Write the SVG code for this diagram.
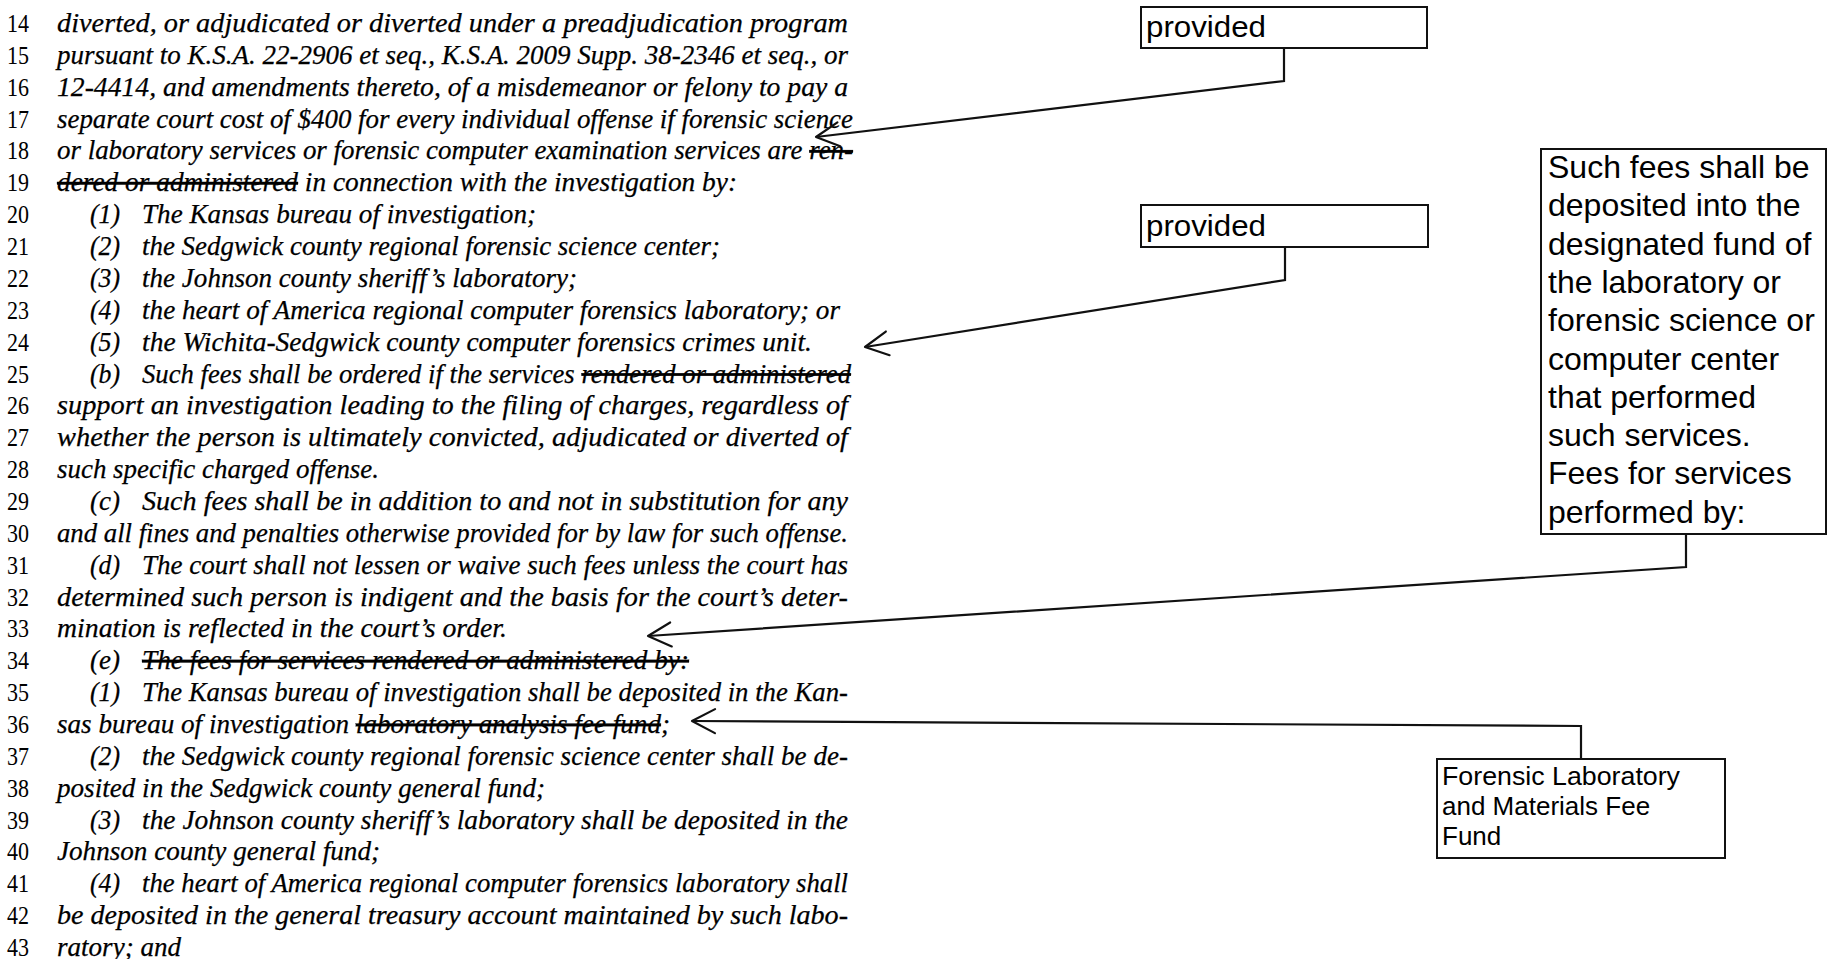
<svg xmlns="http://www.w3.org/2000/svg" width="1828" height="959" viewBox="0 0 1828 959">
<defs>
<style>
.t { font-family: "Liberation Serif", "Times New Roman", serif; font-style: italic; font-size: 27px; fill: #000000; stroke: #000000; stroke-width: 0.25; }
.n { font-family: "Liberation Serif", "Times New Roman", serif; font-size: 25px; fill: #000000; }
.s { text-decoration: line-through; }
.box { fill: #ffffff; stroke: #111111; stroke-width: 2; }
.bt { font-family: "Liberation Sans", Arial, sans-serif; fill: #000000; }
.conn { fill: none; stroke: #111111; stroke-width: 2.2; marker-end: url(#chev); }
</style>
<marker id="chev" viewBox="-30 -16 34 32" refX="0" refY="0" markerWidth="34" markerHeight="32" markerUnits="userSpaceOnUse" orient="auto" overflow="visible">
<path d="M -23 -12 L 0 0 L -23 12" fill="none" stroke="#111111" stroke-width="2.2" stroke-linecap="round" stroke-linejoin="round"/>
</marker>
</defs>
<rect width="1828" height="959" fill="#ffffff"/>

<g id="line-numbers" class="n">
<text x="7" y="32" textLength="22" lengthAdjust="spacingAndGlyphs">14</text>
<text x="7" y="63.9" textLength="22" lengthAdjust="spacingAndGlyphs">15</text>
<text x="7" y="95.7" textLength="22" lengthAdjust="spacingAndGlyphs">16</text>
<text x="7" y="127.6" textLength="22" lengthAdjust="spacingAndGlyphs">17</text>
<text x="7" y="159.4" textLength="22" lengthAdjust="spacingAndGlyphs">18</text>
<text x="7" y="191.3" textLength="22" lengthAdjust="spacingAndGlyphs">19</text>
<text x="7" y="223.2" textLength="22" lengthAdjust="spacingAndGlyphs">20</text>
<text x="7" y="255" textLength="22" lengthAdjust="spacingAndGlyphs">21</text>
<text x="7" y="286.9" textLength="22" lengthAdjust="spacingAndGlyphs">22</text>
<text x="7" y="318.7" textLength="22" lengthAdjust="spacingAndGlyphs">23</text>
<text x="7" y="350.6" textLength="22" lengthAdjust="spacingAndGlyphs">24</text>
<text x="7" y="382.5" textLength="22" lengthAdjust="spacingAndGlyphs">25</text>
<text x="7" y="414.3" textLength="22" lengthAdjust="spacingAndGlyphs">26</text>
<text x="7" y="446.2" textLength="22" lengthAdjust="spacingAndGlyphs">27</text>
<text x="7" y="478" textLength="22" lengthAdjust="spacingAndGlyphs">28</text>
<text x="7" y="509.9" textLength="22" lengthAdjust="spacingAndGlyphs">29</text>
<text x="7" y="541.8" textLength="22" lengthAdjust="spacingAndGlyphs">30</text>
<text x="7" y="573.6" textLength="22" lengthAdjust="spacingAndGlyphs">31</text>
<text x="7" y="605.5" textLength="22" lengthAdjust="spacingAndGlyphs">32</text>
<text x="7" y="637.3" textLength="22" lengthAdjust="spacingAndGlyphs">33</text>
<text x="7" y="669.2" textLength="22" lengthAdjust="spacingAndGlyphs">34</text>
<text x="7" y="701.1" textLength="22" lengthAdjust="spacingAndGlyphs">35</text>
<text x="7" y="732.9" textLength="22" lengthAdjust="spacingAndGlyphs">36</text>
<text x="7" y="764.8" textLength="22" lengthAdjust="spacingAndGlyphs">37</text>
<text x="7" y="796.6" textLength="22" lengthAdjust="spacingAndGlyphs">38</text>
<text x="7" y="828.5" textLength="22" lengthAdjust="spacingAndGlyphs">39</text>
<text x="7" y="860.4" textLength="22" lengthAdjust="spacingAndGlyphs">40</text>
<text x="7" y="892.2" textLength="22" lengthAdjust="spacingAndGlyphs">41</text>
<text x="7" y="924.1" textLength="22" lengthAdjust="spacingAndGlyphs">42</text>
<text x="7" y="955.9" textLength="22" lengthAdjust="spacingAndGlyphs">43</text>
</g>

<g id="bill-text" class="t">
<text x="57" y="32" textLength="791" lengthAdjust="spacingAndGlyphs">diverted, or adjudicated or diverted under a preadjudication program</text>
<text x="57" y="63.9" textLength="791" lengthAdjust="spacingAndGlyphs">pursuant to K.S.A. 22-2906 et seq., K.S.A. 2009 Supp. 38-2346 et seq., or</text>
<text x="57" y="95.7" textLength="791" lengthAdjust="spacingAndGlyphs">12-4414, and amendments thereto, of a misdemeanor or felony to pay a</text>
<text x="57" y="127.6" textLength="796" lengthAdjust="spacingAndGlyphs">separate court cost of $400 for every individual offense if forensic science</text>
<text x="57" y="159.4" textLength="796" lengthAdjust="spacingAndGlyphs">or laboratory services or forensic computer examination services are <tspan class="s">ren-</tspan></text>
<text x="57" y="191.3" textLength="680" lengthAdjust="spacingAndGlyphs"><tspan class="s">dered or administered</tspan> in connection with the investigation by:</text>
<text x="90" y="223.2" textLength="30" lengthAdjust="spacingAndGlyphs">(1)</text>
<text x="142" y="223.2" textLength="394" lengthAdjust="spacingAndGlyphs">The Kansas bureau of investigation;</text>
<text x="90" y="255" textLength="30" lengthAdjust="spacingAndGlyphs">(2)</text>
<text x="142" y="255" textLength="578" lengthAdjust="spacingAndGlyphs">the Sedgwick county regional forensic science center;</text>
<text x="90" y="286.9" textLength="30" lengthAdjust="spacingAndGlyphs">(3)</text>
<text x="142" y="286.9" textLength="435" lengthAdjust="spacingAndGlyphs">the Johnson county sheriff’s laboratory;</text>
<text x="90" y="318.7" textLength="30" lengthAdjust="spacingAndGlyphs">(4)</text>
<text x="142" y="318.7" textLength="698" lengthAdjust="spacingAndGlyphs">the heart of America regional computer forensics laboratory; or</text>
<text x="90" y="350.6" textLength="30" lengthAdjust="spacingAndGlyphs">(5)</text>
<text x="142" y="350.6" textLength="670" lengthAdjust="spacingAndGlyphs">the Wichita-Sedgwick county computer forensics crimes unit.</text>
<text x="90" y="382.5" textLength="30" lengthAdjust="spacingAndGlyphs">(b)</text>
<text x="142" y="382.5" textLength="709" lengthAdjust="spacingAndGlyphs">Such fees shall be ordered if the services <tspan class="s">rendered or administered</tspan></text>
<text x="57" y="414.3" textLength="791" lengthAdjust="spacingAndGlyphs">support an investigation leading to the filing of charges, regardless of</text>
<text x="57" y="446.2" textLength="791" lengthAdjust="spacingAndGlyphs">whether the person is ultimately convicted, adjudicated or diverted of</text>
<text x="57" y="478" textLength="322" lengthAdjust="spacingAndGlyphs">such specific charged offense.</text>
<text x="90" y="509.9" textLength="30" lengthAdjust="spacingAndGlyphs">(c)</text>
<text x="142" y="509.9" textLength="706" lengthAdjust="spacingAndGlyphs">Such fees shall be in addition to and not in substitution for any</text>
<text x="57" y="541.8" textLength="791" lengthAdjust="spacingAndGlyphs">and all fines and penalties otherwise provided for by law for such offense.</text>
<text x="90" y="573.6" textLength="30" lengthAdjust="spacingAndGlyphs">(d)</text>
<text x="142" y="573.6" textLength="706" lengthAdjust="spacingAndGlyphs">The court shall not lessen or waive such fees unless the court has</text>
<text x="57" y="605.5" textLength="791" lengthAdjust="spacingAndGlyphs">determined such person is indigent and the basis for the court’s deter-</text>
<text x="57" y="637.3" textLength="450" lengthAdjust="spacingAndGlyphs">mination is reflected in the court’s order.</text>
<text x="90" y="669.2" textLength="30" lengthAdjust="spacingAndGlyphs">(e)</text>
<text x="142" y="669.2" textLength="547" lengthAdjust="spacingAndGlyphs"><tspan class="s">The fees for services rendered or administered by:</tspan></text>
<text x="90" y="701.1" textLength="30" lengthAdjust="spacingAndGlyphs">(1)</text>
<text x="142" y="701.1" textLength="706" lengthAdjust="spacingAndGlyphs">The Kansas bureau of investigation shall be deposited in the Kan-</text>
<text x="57" y="732.9" textLength="613" lengthAdjust="spacingAndGlyphs">sas bureau of investigation <tspan class="s">laboratory analysis fee fund</tspan>;</text>
<text x="90" y="764.8" textLength="30" lengthAdjust="spacingAndGlyphs">(2)</text>
<text x="142" y="764.8" textLength="706" lengthAdjust="spacingAndGlyphs">the Sedgwick county regional forensic science center shall be de-</text>
<text x="57" y="796.6" textLength="488" lengthAdjust="spacingAndGlyphs">posited in the Sedgwick county general fund;</text>
<text x="90" y="828.5" textLength="30" lengthAdjust="spacingAndGlyphs">(3)</text>
<text x="142" y="828.5" textLength="706" lengthAdjust="spacingAndGlyphs">the Johnson county sheriff’s laboratory shall be deposited in the</text>
<text x="57" y="860.4" textLength="323" lengthAdjust="spacingAndGlyphs">Johnson county general fund;</text>
<text x="90" y="892.2" textLength="30" lengthAdjust="spacingAndGlyphs">(4)</text>
<text x="142" y="892.2" textLength="706" lengthAdjust="spacingAndGlyphs">the heart of America regional computer forensics laboratory shall</text>
<text x="57" y="924.1" textLength="791" lengthAdjust="spacingAndGlyphs">be deposited in the general treasury account maintained by such labo-</text>
<text x="57" y="955.9" textLength="124" lengthAdjust="spacingAndGlyphs">ratory; and</text>
</g>

<g id="connectors">
<path class="conn" d="M 1284 48 L 1284 81 L 816 137"/>
<path class="conn" d="M 1285 247 L 1285 280 L 865 347"/>
<path class="conn" d="M 1686 534 L 1686 567 L 648 636"/>
<path class="conn" d="M 1581 759 L 1581 726 L 692 721"/>
</g>

<g id="note-provided-1">
<rect class="box" x="1141" y="7" width="286" height="41"/>
<text class="bt" x="1146" y="37" font-size="30" textLength="120" lengthAdjust="spacingAndGlyphs">provided</text>
</g>

<g id="note-provided-2">
<rect class="box" x="1141" y="205" width="287" height="42"/>
<text class="bt" x="1146" y="236" font-size="30" textLength="120" lengthAdjust="spacingAndGlyphs">provided</text>
</g>

<g id="note-deposit">
<rect class="box" x="1541" y="149" width="285" height="385"/>
<text class="bt" font-size="32">
<tspan x="1548" y="178">Such fees shall be</tspan>
<tspan x="1548" y="216.3">deposited into the</tspan>
<tspan x="1548" y="254.6">designated fund of</tspan>
<tspan x="1548" y="292.9">the laboratory or</tspan>
<tspan x="1548" y="331.2">forensic science or</tspan>
<tspan x="1548" y="369.5">computer center</tspan>
<tspan x="1548" y="407.8">that performed</tspan>
<tspan x="1548" y="446.1">such services.</tspan>
<tspan x="1548" y="484.4">Fees for services</tspan>
<tspan x="1548" y="522.7">performed by:</tspan>
</text>
</g>

<g id="note-fund">
<rect class="box" x="1437" y="759" width="288" height="99"/>
<text class="bt" font-size="26">
<tspan x="1442" y="785" textLength="238" lengthAdjust="spacingAndGlyphs">Forensic Laboratory</tspan>
<tspan x="1442" y="815">and Materials Fee</tspan>
<tspan x="1442" y="845">Fund</tspan>
</text>
</g>
</svg>
